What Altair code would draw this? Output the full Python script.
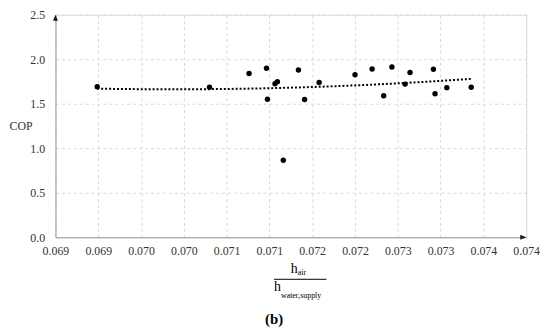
import altair as alt
import pandas as pd

# ---- data ----
ratio = [0.069488, 0.070800, 0.071262, 0.071466, 0.071477, 0.071565, 0.071593,
         0.071662, 0.071839, 0.071911, 0.072081, 0.072500, 0.072700, 0.072835,
         0.072931, 0.073085, 0.073143, 0.073416, 0.073435, 0.073573, 0.073858]
cop = [1.692, 1.685, 1.840, 1.899, 1.551, 1.725, 1.747,
       0.866, 1.880, 1.547, 1.739, 1.826, 1.891, 1.590,
       1.913, 1.721, 1.851, 1.888, 1.612, 1.681, 1.685]

x_ticks = [0.0690, 0.0695, 0.0700, 0.0705, 0.0710, 0.0715, 0.0720,
           0.0725, 0.0730, 0.0735, 0.0740, 0.0745]
x_tick_labels = ["0.069", "0.069", "0.070", "0.070", "0.071", "0.071",
                 "0.072", "0.072", "0.073", "0.073", "0.074", "0.074"]
y_ticks = [0.0, 0.5, 1.0, 1.5, 2.0, 2.5]

df = pd.DataFrame({"ratio": ratio, "cop": cop})

FONT = "Times New Roman, Liberation Serif, serif"
W, H = 476, 225
xdom = [0.069, 0.0745]
ydom = [0, 2.5]

label_expr = "[" + ",".join(f"'{l}'" for l in x_tick_labels) + \
    "][round((datum.value - 0.069) / 0.0005)]"

xs = alt.Scale(domain=xdom, nice=False, zero=False)
ys = alt.Scale(domain=ydom, nice=False)

x_axis = alt.Axis(values=x_ticks, labelExpr=label_expr, title=None,
                  grid=True, gridDash=[3, 3], gridColor="#d9d9d9",
                  domainColor="#9e9e9e", domainWidth=1, ticks=False,
                  labelFont=FONT, labelFontSize=12, labelColor="#333333",
                  labelPadding=8, labelFlush=False)
y_axis = alt.Axis(values=y_ticks, format=".1f", title="COP", titleAngle=0,
                  titleX=-47, titleY=112, titleAlign="left",
                  titleBaseline="middle",
                  titleFont=FONT, titleFontSize=12, titleFontWeight="normal",
                  titleColor="#333333",
                  grid=True, gridDash=[3, 3], gridColor="#d9d9d9",
                  domainColor="#9e9e9e", domainWidth=1, ticks=False,
                  labelFont=FONT, labelFontSize=12, labelColor="#333333",
                  labelPadding=11)

base = alt.Chart(df)

points = base.mark_circle(size=30, color="black", opacity=1).encode(
    x=alt.X("ratio:Q", scale=xs, axis=x_axis),
    y=alt.Y("cop:Q", scale=ys, axis=y_axis),
)

trend = base.transform_regression(
    "ratio", "cop", method="poly", order=2, extent=[min(ratio), max(ratio)]
).mark_line(color="black", strokeDash=[2, 2], strokeWidth=2).encode(
    x=alt.X("ratio:Q", scale=xs),
    y=alt.Y("cop:Q", scale=ys),
)

arrows_df = pd.DataFrame({
    "ax": [xdom[0], xdom[1]],
    "ay": [ydom[1], ydom[0]],
    "shape": ["M-1,2.4 L1,2.4 L0,0 Z", "M-2.4,-1 L-2.4,1 L0,0 Z"],
})
arrows = alt.Chart(arrows_df).mark_point(
    filled=True, size=25, color="#1a1a1a", opacity=1
).encode(
    x=alt.X("ax:Q", scale=xs),
    y=alt.Y("ay:Q", scale=ys),
    shape=alt.Shape("shape:N", scale=None, legend=None),
)

# x-axis title: fraction h_air / h_water,supply, and panel tag (b)
title_df = pd.DataFrame({"t": [0]})
tb = alt.Chart(title_df)
h_top = tb.mark_text(text="h", font=FONT, fontSize=14, align="left",
                     baseline="alphabetic", color="black").encode(
    x=alt.value(238), y=alt.value(261))
sub_top = tb.mark_text(text="air", font=FONT, fontSize=8, align="left",
                       baseline="alphabetic", color="black").encode(
    x=alt.value(245), y=alt.value(263.5))
frac = tb.mark_rule(color="black", strokeWidth=1).encode(
    x=alt.value(221), x2=alt.value(274), y=alt.value(267.5))
h_bot = tb.mark_text(text="h", font=FONT, fontSize=14, align="left",
                     baseline="alphabetic", color="black").encode(
    x=alt.value(221), y=alt.value(279))
sub_bot = tb.mark_text(text="water,supply", font=FONT, fontSize=8,
                       align="left", baseline="alphabetic",
                       color="black").encode(
    x=alt.value(228), y=alt.value(286))
tag = tb.mark_text(text="(b)", font=FONT, fontSize=15, fontWeight="bold",
                   align="center", baseline="alphabetic",
                   color="black").encode(
    x=alt.value(221), y=alt.value(313))

chart = alt.layer(
    trend, points, arrows, h_top, sub_top, frac, h_bot, sub_bot, tag
).properties(
    width=W, height=H,
    autosize=alt.AutoSizeParams(type="none"),
    padding={"left": 48, "top": 5, "right": 16, "bottom": 96},
).configure_view(stroke=None).configure(background="white")

chart.save("out.html", embed_options={"renderer": "svg", "actions": False})
